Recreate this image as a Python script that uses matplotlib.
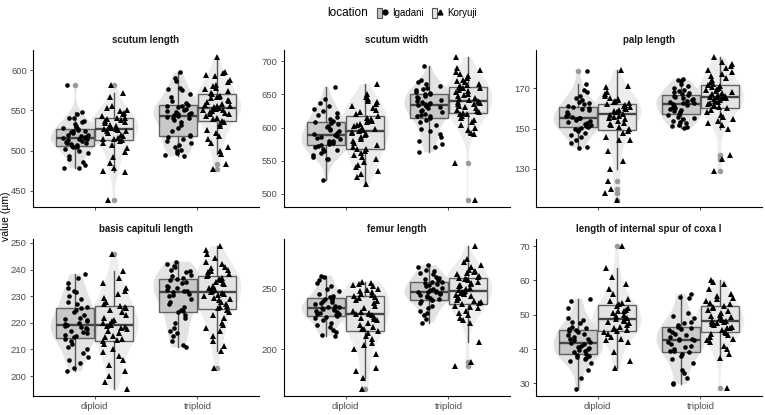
import numpy as np
import matplotlib
matplotlib.use("Agg")
import matplotlib.pyplot as plt
from matplotlib.patches import Patch
from matplotlib.lines import Line2D
from matplotlib.legend_handler import HandlerTuple

plt.rcParams['font.family'] = ['Liberation Sans', 'DejaVu Sans']

ploidy = ["diploid", "triploid"]
locations = ["Igadani", "Koryuji"]
traits = ["scutum length", "scutum width", "palp length",
          "basis capituli length", "femur length", "length of internal spur of coxa I"]

# ---- scutum length ----
sl_ig_dip = [582, 548, 545, 541, 540, 537, 535, 533, 531, 529, 528, 527, 526, 525, 524, 523, 522, 520, 519, 518, 517,
             516, 516, 515, 514, 513, 512, 511, 510, 509, 508, 507, 506, 505, 504, 502, 500, 497, 494, 490, 486, 482, 479, 478]
sl_ko_dip = [582, 572, 566, 555, 553, 551, 549, 547, 545, 543, 541, 540, 539, 538, 537, 536, 534, 532, 530, 529, 528,
             527, 527, 526, 525, 524, 522, 520, 518, 516, 515, 514, 513, 512, 510, 507, 503, 498, 492, 485, 478, 475, 474, 439]
sl_ig_tri = [597, 590, 586, 578, 577, 575, 570, 566, 562, 559, 557, 556, 555, 554, 552, 550, 549, 548, 547, 546, 545,
             544, 543, 542, 541, 540, 538, 535, 532, 528, 524, 520, 518, 517, 515, 512, 510, 507, 504, 501, 499, 497, 495, 493]
sl_ko_tri = [616, 598, 596, 594, 592, 588, 585, 582, 580, 578, 576, 574, 572, 570, 568, 567, 566, 565, 563, 561, 560,
             558, 557, 556, 555, 554, 553, 552, 552, 551, 550, 549, 548, 547, 546, 545, 543, 541, 539, 537, 535, 533,
             530, 526, 522, 518, 514, 510, 505, 500, 496, 484, 477]

# ---- scutum width ----
sw_ig_dip = [661, 643, 637, 632, 628, 625, 622, 619, 616, 613, 610, 608, 607, 605, 603, 601, 598, 596, 594, 592, 590,
             588, 587, 586, 584, 582, 580, 579, 577, 576, 575, 574, 572, 570, 568, 566, 564, 562, 559, 556, 553, 552, 521]
sw_ko_dip = [665, 650, 646, 643, 640, 638, 636, 633, 630, 627, 624, 621, 618, 615, 613, 612, 610, 608, 606, 604, 602,
             600, 598, 596, 594, 593, 592, 590, 588, 585, 582, 579, 576, 573, 570, 568, 567, 565, 562, 559, 556, 552,
             548, 544, 540, 535, 530, 525, 515]
sw_ig_tri = [692, 672, 668, 665, 662, 660, 658, 656, 654, 652, 651, 650, 648, 646, 644, 642, 640, 638, 637, 636, 635,
             634, 633, 631, 629, 627, 625, 623, 621, 619, 618, 617, 615, 612, 608, 604, 598, 594, 590, 585, 579, 575, 571, 563]
sw_ko_tri = [706, 690, 686, 683, 680, 677, 674, 672, 670, 668, 666, 664, 662, 661, 660, 659, 657, 655, 653, 651, 649,
             647, 645, 643, 641, 640, 639, 638, 637, 636, 635, 633, 631, 629, 627, 625, 623, 622, 621, 620, 618, 615,
             612, 608, 604, 600, 596, 592, 590, 547, 491]

# ---- palp length ----
pl_ig_dip = [178.7, 172, 169, 168, 166, 165, 164, 163, 162.5, 162, 161, 160.5, 160, 159.5, 159, 158, 157.5, 157, 156.5,
             156, 155.5, 155.2, 155, 154.5, 154, 153.5, 153, 152.5, 152, 151.5, 151, 150.5, 150, 149.5, 149, 148, 147,
             146, 144.5, 143, 141, 140.5]
pl_ko_dip = [179, 171.3, 170.5, 168, 167, 166, 165, 164.5, 164, 163.5, 163, 162.5, 162, 161.5, 161, 160.5, 160, 159.5,
             159, 158.5, 158.3, 158, 157.5, 157, 156.5, 156, 155.5, 155, 154, 153, 152.5, 152, 151, 150, 149, 148, 146,
             144.5, 144.5, 139, 134, 130, 124, 120, 118, 114.6]
pl_ig_tri = [174.4, 174, 173.5, 172, 171, 170, 169, 168.5, 168, 167.5, 167, 166.5, 166, 165.5, 165, 164.5, 164, 163.5,
             163, 162.8, 162.5, 162, 161.5, 161, 160.5, 160, 159.5, 159, 158.5, 158, 157.5, 157, 156, 155.5, 155, 154,
             153.5, 153, 152, 151.5, 151, 150.3]
pl_ko_tri = [185.5, 183, 182, 181, 180, 179, 178, 177, 176, 175, 174, 173, 172, 171.5, 171, 170.5, 170, 169.5, 169,
             168.5, 168, 167.5, 167, 166.5, 166, 165.8, 165.5, 165.2, 165, 164.5, 164, 163.5, 163, 162.5, 162, 161.5,
             161, 160.5, 160, 159, 158, 157, 156, 155, 154, 153, 152, 150, 137, 135, 128.7]

# ---- basis capituli length ----
bc_ig_dip = [238.3, 237, 235, 233, 232, 231.5, 230, 229, 228, 227, 226, 225.5, 225, 224, 223, 222, 221.5, 221, 220.5,
             220, 219.5, 219, 218.8, 218.5, 218, 217.5, 217, 216.5, 216, 215.5, 215, 214.5, 214, 213, 212, 211, 210,
             208.5, 207, 206, 205, 203, 201.8]
bc_ko_dip = [246, 239.5, 237, 235, 233, 232, 231, 229.5, 228, 227, 226.5, 226, 225.5, 225, 224, 223, 222, 221, 220.5,
             220, 219.5, 219, 218.8, 218.5, 218, 217.5, 217, 216, 215, 214.5, 214, 213.5, 213, 212, 210, 209, 207.5,
             206, 204, 202, 200, 197.6, 195.2]
bc_ig_tri = [243, 242, 241.5, 241, 240, 239.5, 239, 238, 237.5, 237, 236.5, 236, 235.5, 235, 234, 233.5, 233, 232.5,
             232, 231.8, 231.5, 231, 230.5, 230, 229, 228, 227, 226, 225, 224.5, 224, 223, 222, 220, 218, 217, 216,
             215, 213, 211.5, 210.8]
bc_ko_tri = [248.8, 247.5, 246, 244.5, 243, 242, 241, 240.5, 240, 239.5, 239, 238.5, 238, 237.5, 237, 236.5, 236,
             235.5, 235, 234.5, 234, 233.5, 233, 232.5, 232, 231.5, 231.2, 231, 230.5, 230, 229.5, 229, 228.5, 228,
             227, 226.5, 226, 225.5, 225, 224, 223, 222, 220, 219, 218, 217, 215, 213, 211.4, 209.5, 203.2]

# ---- femur length ----
fe_ig_dip = [261, 259.6, 257, 255, 252, 250, 248, 246, 244, 243, 242, 241.5, 241, 240, 239, 238, 237, 236, 235, 234.5,
             234, 233.5, 233, 232.5, 232, 231, 230, 229.5, 229, 228, 227.5, 227, 226, 224, 222, 220, 218, 216, 214,
             212, 211]
fe_ko_dip = [256, 255, 254, 253, 252, 250, 249, 248, 247, 246, 245, 244, 243, 242, 241, 240, 238, 236, 234, 232, 231,
             230, 229.5, 229, 228, 227, 226, 225, 224, 222, 220, 218, 217, 216.5, 215, 213, 211, 208, 205, 203, 200,
             196, 184, 181.6, 175.8, 167]
fe_ig_tri = [269.7, 268, 266, 265, 263, 262, 260, 259, 258, 257, 256, 255.5, 255, 254, 253, 252, 251, 250, 249, 248,
             247.5, 247.3, 247, 246.5, 246, 245, 244, 243, 242, 241.5, 241, 240.5, 240, 238, 236, 234, 232, 230, 228,
             225, 222]
fe_ko_tri = [285.4, 275, 272, 270, 268, 266, 265, 264, 263, 262, 261, 260, 259, 258.5, 258, 257, 256, 255, 254, 253,
             252, 251, 250, 249, 248, 247.6, 247, 246.5, 246, 245, 244, 243, 242, 241, 240, 239, 238, 237, 236, 235,
             234, 232, 230, 228, 226, 224, 222, 205.6, 189, 186]

# ---- length of internal spur of coxa I ----
cx_ig_dip = [54.6, 54, 52, 49, 48.5, 48, 47.5, 46.5, 46, 45.8, 45.5, 45.3, 45, 44.5, 44, 43.5, 43, 42.8, 42.5, 42,
             41.8, 41.5, 41, 40.5, 40.2, 40, 39.8, 39.5, 39, 38.5, 38.3, 38, 37.8, 37.5, 37, 36.5, 36, 34, 31.5, 28.4]
cx_ko_dip = [70, 63.5, 61, 58.9, 57.5, 56, 54.5, 54, 53.5, 53, 52.5, 52, 51.5, 51.2, 51, 50.5, 50, 49.5, 49, 48.8,
             48.5, 48.2, 48, 47.5, 47, 46.5, 46, 45.8, 45.5, 45.2, 45, 44.5, 43.5, 43, 42.5, 42, 39, 36.6, 34.5]
cx_ig_tri = [56, 55.2, 55, 50.5, 49.5, 49, 48, 47.5, 47, 46.5, 46, 45.8, 45.5, 45, 44.5, 44, 43.5, 43, 42.8, 42.7,
             42.5, 42, 41.5, 41, 40.5, 40, 39.5, 39.3, 39, 38.5, 38, 37, 36, 34, 33, 31.5, 30, 29.8]
cx_ko_tri = [60, 59.5, 59, 57.5, 56, 55.5, 55, 54.5, 54, 53.5, 53, 52.5, 52.2, 52, 51.5, 51, 50.5, 50, 49.5, 49.2,
             49, 48.5, 48.3, 48.1, 48, 47.8, 47.5, 47.2, 47, 46.5, 46.2, 46, 45.5, 45, 44.8, 44.5, 44, 43.5, 43,
             42.5, 42, 41, 40, 38.6, 37.5, 28.6]

panel_data = [
    [[sl_ig_dip, sl_ko_dip], [sl_ig_tri, sl_ko_tri]],
    [[sw_ig_dip, sw_ko_dip], [sw_ig_tri, sw_ko_tri]],
    [[pl_ig_dip, pl_ko_dip], [pl_ig_tri, pl_ko_tri]],
    [[bc_ig_dip, bc_ko_dip], [bc_ig_tri, bc_ko_tri]],
    [[fe_ig_dip, fe_ko_dip], [fe_ig_tri, fe_ko_tri]],
    [[cx_ig_dip, cx_ko_dip], [cx_ig_tri, cx_ko_tri]],
]
yticks = [[450, 500, 550, 600], [500, 550, 600, 650, 700], [130, 150, 170],
          [200, 210, 220, 230, 240, 250], [200, 250], [30, 40, 50, 60, 70]]

box_fill = {"Igadani": "#c6c6c6", "Koryuji": "#e4e4e4"}
vio_fill = {"Igadani": "#d4d4d4", "Koryuji": "#e4e4e4"}
markers = {"Igadani": "o", "Koryuji": "^"}
edge = "#555555"

W, H = 765, 415
fig = plt.figure(figsize=(W / 100, H / 100), dpi=100)
col_left = [33, 284, 536]
col_w = 226
row_top = [50, 239]
row_h = 157

dodge = 0.1875
for k, trait in enumerate(traits):
    r, c = divmod(k, 3)
    ax = fig.add_axes([col_left[c] / W, 1 - (row_top[r] + row_h) / H, col_w / W, row_h / H])
    allv = []
    for i, p in enumerate(ploidy):
        for j, loc in enumerate(locations):
            vals = np.asarray(panel_data[k][i][j], dtype=float)
            allv.extend(vals)
            pos = (i + 1) + (j * 2 - 1) * dodge
            vp = ax.violinplot([vals], positions=[pos], widths=0.48, showextrema=False)
            for b in vp['bodies']:
                b.set_facecolor(vio_fill[loc])
                b.set_edgecolor('none')
                b.set_alpha(0.65)
                b.set_zorder(1)
            ax.boxplot([vals], positions=[pos], widths=0.37, patch_artist=True, showcaps=False,
                       boxprops=dict(facecolor=box_fill[loc], edgecolor=edge, linewidth=1.0, alpha=0.9),
                       medianprops=dict(color="#444444", linewidth=1.7),
                       whiskerprops=dict(color=edge, linewidth=1.0),
                       flierprops=dict(marker='o', markerfacecolor='#9a9a9a', markeredgecolor='none',
                                       markersize=4.0),
                       zorder=2)
            n = len(vals)
            idx = np.arange(n) + 97 * k + 31 * i + 13 * j
            h = np.sin(idx * 12.9898 + 78.233) * 43758.5453
            jit = ((h - np.floor(h)) - 0.5) * 0.26
            ax.plot(pos + jit, vals, linestyle='none', marker=markers[loc], color='black',
                    markersize=3.3 if loc == "Igadani" else 3.8, markeredgewidth=0, zorder=3)
    lo, hi = min(allv), max(allv)
    pad = (hi - lo) * 0.05
    ax.set_ylim(lo - pad, hi + pad)
    ax.set_xlim(0.4, 2.6)
    ax.set_yticks(yticks[k])
    ax.set_xticks([1, 2])
    if r == 1:
        ax.set_xticklabels(ploidy)
    else:
        ax.set_xticklabels([])
    for s in ['top', 'right']:
        ax.spines[s].set_visible(False)
    for s in ['left', 'bottom']:
        ax.spines[s].set_color('black')
        ax.spines[s].set_linewidth(0.8)
    ax.tick_params(axis='both', length=2.5, width=0.6, color='#333333', labelsize=6.8,
                   labelcolor='#4d4d4d', pad=2)
    ax.set_title(trait, fontsize=7, fontweight='bold', color='#1a1a1a', pad=5)

fig.text(6 / W, 0.48, "value (µm)", rotation=90, ha='center', va='center', fontsize=7.5, color='black')

# legend
fig.text(348 / W, 1 - 13 / H, "location", ha='center', va='center', fontsize=8.5, color='black')
handles = []
for loc in locations:
    handles.append((Patch(facecolor=box_fill[loc], edgecolor=edge, linewidth=0.8),
                    Line2D([], [], marker=markers[loc], color='black', linestyle='none', markersize=3.5)))
fig.legend(handles, locations, handler_map={tuple: HandlerTuple(ndivide=None)}, loc='center',
           bbox_to_anchor=(427 / W, 1 - 13 / H), ncol=2, frameon=False, fontsize=7,
           handlelength=1.1, handleheight=1.3, handletextpad=0.5, columnspacing=0.8, borderpad=0.1)

fig.savefig("out.png", dpi=100)
